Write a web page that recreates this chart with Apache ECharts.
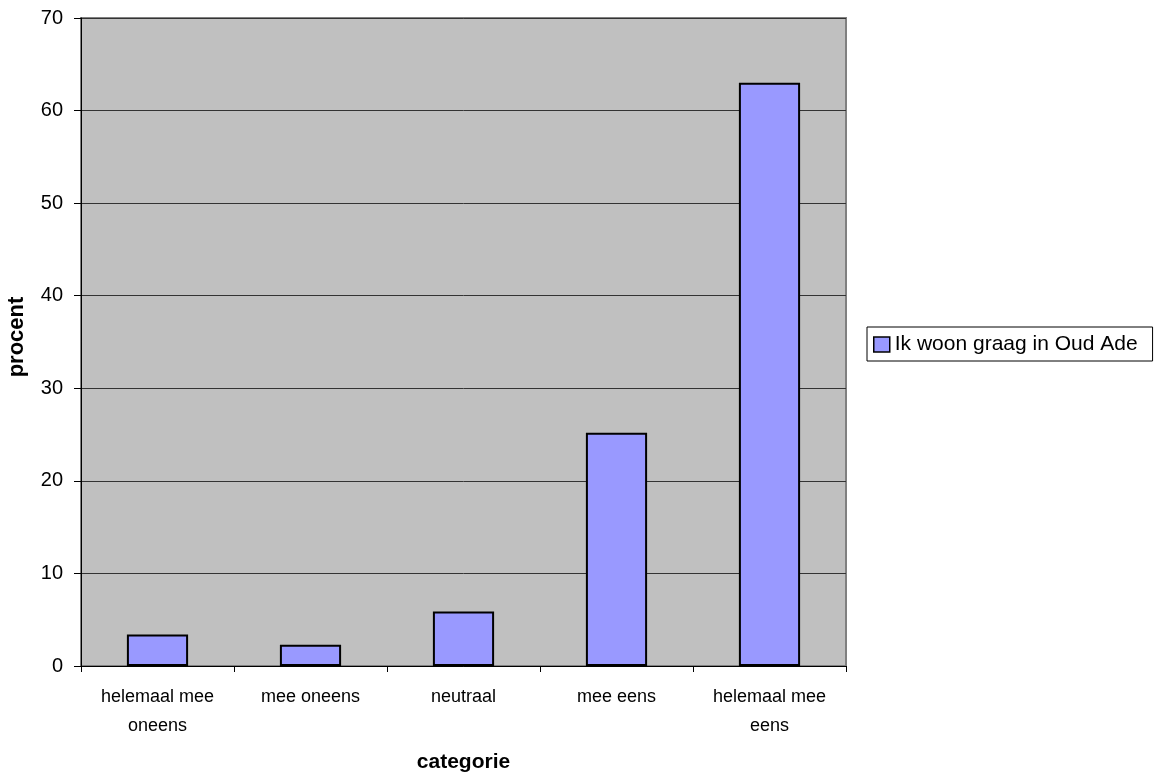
<!DOCTYPE html>
<html>
<head>
<meta charset="utf-8">
<script src="https://cdn.jsdelivr.net/npm/echarts@6/dist/echarts.min.js"></script>
<style>html,body{margin:0;padding:0;background:#fff}#c{width:1157px;height:773px}</style>
</head>
<body>
<div id="c"></div>
<script>
const categories = ['helemaal mee\noneens', 'mee oneens', 'neutraal', 'mee eens', 'helemaal mee\neens'];
const values = [3.4, 2.3, 5.9, 25.2, 63.0];
const seriesName = 'Ik woon graag in Oud Ade';
const yTicks = { min: 0, max: 70, interval: 10 };

const font = '"Liberation Sans", Arial, sans-serif';
const chart = echarts.init(document.getElementById('c'));
chart.setOption({
  animation: false,
  textStyle: { fontFamily: font, color: '#000' },
  grid: {
    left: 81, top: 18, right: 311, bottom: 107,
    containLabel: false,
    outerBoundsMode: 'none',
    show: true, backgroundColor: '#C0C0C0', borderColor: '#808080', borderWidth: 2
  },
  legend: {
    show: true,
    left: 867, top: 327,
    orient: 'vertical',
    backgroundColor: '#fff',
    borderColor: '#000',
    borderWidth: 1,
    padding: [7, 15, 6, 6],
    itemWidth: 16, itemHeight: 15, itemGap: 0,
    icon: 'rect',
    textStyle: { fontFamily: font, fontSize: 21, color: '#000' },
    data: [{ name: seriesName, itemStyle: { borderColor: '#000', borderWidth: 1.5 } }]
  },
  xAxis: {
    type: 'category',
    data: categories,
    name: 'categorie',
    nameLocation: 'middle',
    nameGap: 86,
    nameTextStyle: { fontFamily: font, fontSize: 21, fontWeight: 'bold', color: '#000' },
    axisLine: { show: true, lineStyle: { color: '#000', width: 1 } },
    axisTick: { show: true, length: 6, lineStyle: { color: '#000' } },
    axisLabel: { fontFamily: font, fontSize: 18, color: '#000', lineHeight: 29, margin: 17, interval: 0 }
  },
  yAxis: {
    type: 'value',
    min: yTicks.min, max: yTicks.max, interval: yTicks.interval,
    name: 'procent',
    nameLocation: 'middle',
    nameGap: 53,
    nameTextStyle: { fontFamily: font, fontSize: 22, fontWeight: 'bold', color: '#000', padding: [0, 0, 0, 10] },
    axisLine: { show: true, lineStyle: { color: '#000', width: 1 } },
    axisTick: { show: true, length: 7, inside: false, lineStyle: { color: '#000' } },
    axisLabel: { fontFamily: font, fontSize: 20, color: '#000', margin: 18 },
    splitLine: { show: true, lineStyle: { color: '#333', width: 1 } }
  },
  series: [{
    name: seriesName,
    type: 'bar',
    data: values,
    barCategoryGap: '60%',
    itemStyle: { color: '#9999FF', borderColor: '#000', borderWidth: 2 }
  }]
});
</script>
</body>
</html>
